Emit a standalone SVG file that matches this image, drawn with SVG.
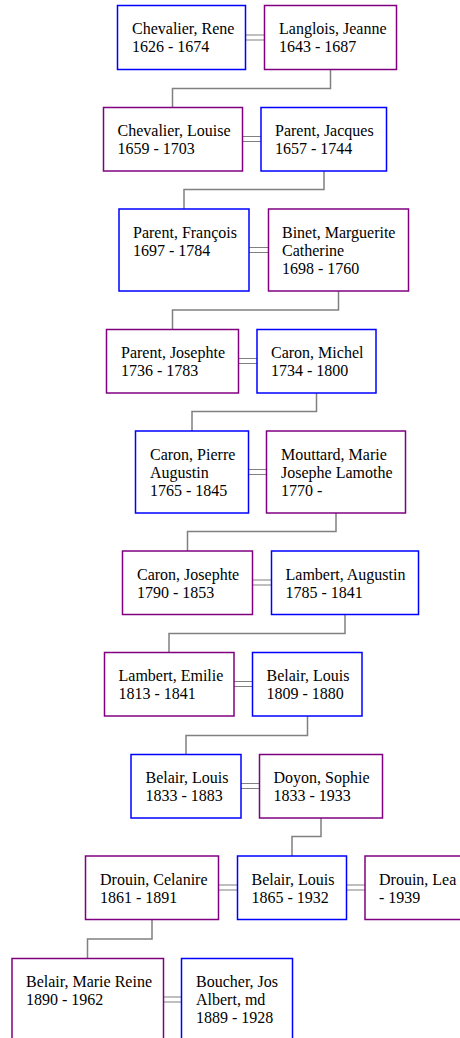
<svg xmlns="http://www.w3.org/2000/svg" width="460" height="1038" viewBox="0 0 460 1038">
<style>
  .box { fill: #ffffff; stroke-width: 1.5; }
  .m { stroke: #0000ff; }
  .f { stroke: #800080; }
  text { font-family: "Liberation Serif", "Times New Roman", serif; font-size: 16px; fill: #000000; }
  .desc { fill: none; stroke: #808080; stroke-width: 1.5; }
  .marr { fill: none; stroke: #808080; stroke-width: 1.2; }
</style>
<rect width="460" height="1038" fill="#ffffff"/>

<g id="connectors">
  <!-- marriages (double lines) -->
  <path class="marr" d="M245.5 35H264.5M245.5 40H264.5"/>
  <path class="marr" d="M242.5 136.5H261M242.5 141.5H261"/>
  <path class="marr" d="M249 247.5H268.5M249 252.5H268.5"/>
  <path class="marr" d="M238.5 358.5H257M238.5 363.5H257"/>
  <path class="marr" d="M248.5 469.5H266.5M248.5 474.5H266.5"/>
  <path class="marr" d="M252.5 580H271.5M252.5 585H271.5"/>
  <path class="marr" d="M234 681.5H252.5M234 686.5H252.5"/>
  <path class="marr" d="M241 783.5H259.5M241 788.5H259.5"/>
  <path class="marr" d="M218.5 885H237.5M218.5 890H237.5"/>
  <path class="marr" d="M346.5 885H365M346.5 890H365"/>
  <path class="marr" d="M163.5 997H181.5M163.5 1002H181.5"/>
  <!-- descent -->
  <path class="desc" d="M330.5 69.5V88.5H172.5V107.5"/>
  <path class="desc" d="M324 171V189.5H184V209"/>
  <path class="desc" d="M338.5 291V310H172.5V329.5"/>
  <path class="desc" d="M316.5 393V411.5H192V431"/>
  <path class="desc" d="M336 513V531.5H187.5V551"/>
  <path class="desc" d="M345 614.5V633.5H169V652.5"/>
  <path class="desc" d="M307.5 716V735.5H186V754.5"/>
  <path class="desc" d="M321 818V836.5H292V856"/>
  <path class="desc" d="M152 919.5V939H87.5V958.5"/>
</g>

<g id="chevalier-rene">
  <rect class="box m" x="117.5" y="5.5" width="128" height="64"/>
  <text x="132" y="34">Chevalier, Rene</text>
  <text x="132" y="52">1626 - 1674</text>
</g>
<g id="langlois-jeanne">
  <rect class="box f" x="264.5" y="5.5" width="132" height="64"/>
  <text x="279" y="34">Langlois, Jeanne</text>
  <text x="279" y="52">1643 - 1687</text>
</g>

<g id="chevalier-louise">
  <rect class="box f" x="103.5" y="107.5" width="139" height="63.5"/>
  <text x="117.5" y="136">Chevalier, Louise</text>
  <text x="117.5" y="154">1659 - 1703</text>
</g>
<g id="parent-jacques">
  <rect class="box m" x="261" y="107.5" width="125.5" height="63.5"/>
  <text x="275" y="136">Parent, Jacques</text>
  <text x="275" y="154">1657 - 1744</text>
</g>

<g id="parent-francois">
  <rect class="box m" x="119" y="209" width="130" height="82"/>
  <text x="133" y="237.5">Parent, François</text>
  <text x="133" y="255.5">1697 - 1784</text>
</g>
<g id="binet-marguerite">
  <rect class="box f" x="268.5" y="209" width="140" height="82"/>
  <text x="282" y="237.5">Binet, Marguerite</text>
  <text x="282" y="255.5">Catherine</text>
  <text x="282" y="273.5">1698 - 1760</text>
</g>

<g id="parent-josephte">
  <rect class="box f" x="106.5" y="329.5" width="132" height="63.5"/>
  <text x="121" y="358">Parent, Josephte</text>
  <text x="121" y="376">1736 - 1783</text>
</g>
<g id="caron-michel">
  <rect class="box m" x="257" y="329.5" width="119" height="63.5"/>
  <text x="271" y="358">Caron, Michel</text>
  <text x="271" y="376">1734 - 1800</text>
</g>

<g id="caron-pierre">
  <rect class="box m" x="135.5" y="431" width="113" height="82"/>
  <text x="150" y="459.5">Caron, Pierre</text>
  <text x="150" y="477.5">Augustin</text>
  <text x="150" y="495.5">1765 - 1845</text>
</g>
<g id="mouttard-marie">
  <rect class="box f" x="266.5" y="431" width="139" height="82"/>
  <text x="281" y="459.5">Mouttard, Marie</text>
  <text x="281" y="477.5">Josephe Lamothe</text>
  <text x="281" y="495.5">1770 -</text>
</g>

<g id="caron-josephte">
  <rect class="box f" x="122.5" y="551" width="130" height="63.5"/>
  <text x="137" y="579.5">Caron, Josephte</text>
  <text x="137" y="597.5">1790 - 1853</text>
</g>
<g id="lambert-augustin">
  <rect class="box m" x="271.5" y="551" width="147" height="63.5"/>
  <text x="285.5" y="579.5">Lambert, Augustin</text>
  <text x="285.5" y="597.5">1785 - 1841</text>
</g>

<g id="lambert-emilie">
  <rect class="box f" x="104.5" y="652.5" width="129.5" height="63.5"/>
  <text x="118.5" y="681">Lambert, Emilie</text>
  <text x="118.5" y="699">1813 - 1841</text>
</g>
<g id="belair-louis-1809">
  <rect class="box m" x="252.5" y="652.5" width="109.5" height="63.5"/>
  <text x="266.5" y="681">Belair, Louis</text>
  <text x="266.5" y="699">1809 - 1880</text>
</g>

<g id="belair-louis-1833">
  <rect class="box m" x="131" y="754.5" width="110" height="63.5"/>
  <text x="145.5" y="783">Belair, Louis</text>
  <text x="145.5" y="801">1833 - 1883</text>
</g>
<g id="doyon-sophie">
  <rect class="box f" x="259.5" y="754.5" width="123" height="63.5"/>
  <text x="273.5" y="783">Doyon, Sophie</text>
  <text x="273.5" y="801">1833 - 1933</text>
</g>

<g id="drouin-celanire">
  <rect class="box f" x="85.5" y="856" width="133" height="63.5"/>
  <text x="100" y="884.5">Drouin, Celanire</text>
  <text x="100" y="902.5">1861 - 1891</text>
</g>
<g id="belair-louis-1865">
  <rect class="box m" x="237.5" y="856" width="109" height="63.5"/>
  <text x="251.5" y="884.5">Belair, Louis</text>
  <text x="251.5" y="902.5">1865 - 1932</text>
</g>
<g id="drouin-lea">
  <rect class="box f" x="365" y="856" width="130" height="63.5"/>
  <text x="379" y="884.5">Drouin, Lea</text>
  <text x="379" y="902.5">- 1939</text>
</g>

<g id="belair-marie-reine">
  <rect class="box f" x="12" y="958.5" width="151.5" height="82"/>
  <text x="26" y="987">Belair, Marie Reine</text>
  <text x="26" y="1005">1890 - 1962</text>
</g>
<g id="boucher-jos-albert">
  <rect class="box m" x="181.5" y="958.5" width="111" height="82"/>
  <text x="196" y="987">Boucher, Jos</text>
  <text x="196" y="1005">Albert, md</text>
  <text x="196" y="1023">1889 - 1928</text>
</g>
</svg>
